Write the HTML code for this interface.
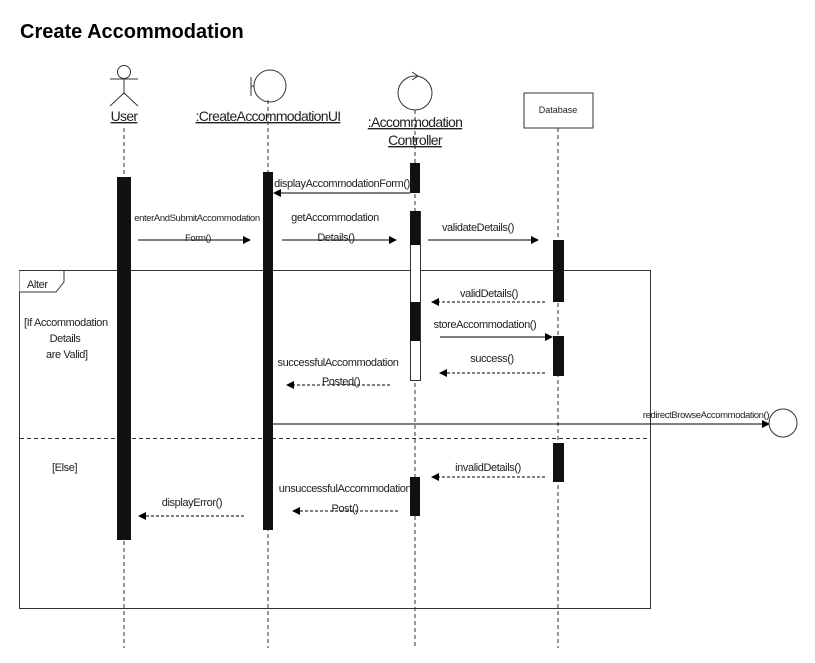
<!DOCTYPE html>
<html><head><meta charset="utf-8"><style>
body{margin:0;background:#fff;}
svg text{font-family:"Liberation Sans",Arial,sans-serif;fill:#222;}
.m{font-size:11px;letter-spacing:-0.4px;}
.h{font-size:14px;letter-spacing:-0.7px;}
</style></head><body>
<svg width="815" height="658" viewBox="0 0 815 658" xmlns="http://www.w3.org/2000/svg">
<defs>
<marker id="ah" markerWidth="8" markerHeight="8" refX="7" refY="4" orient="auto" markerUnits="userSpaceOnUse"><path d="M0,0 L8,4 L0,8 Z" fill="#000"/></marker>
</defs>
<text x="20" y="38" style="font-size:20px;font-weight:bold;fill:#000">Create Accommodation</text>

<g stroke="#333" stroke-dasharray="4,3" stroke-width="1">
<line x1="124" y1="128" x2="124" y2="648"/>
<line x1="268" y1="100" x2="268" y2="648"/>
<line x1="415" y1="110" x2="415" y2="648"/>
<line x1="558" y1="128" x2="558" y2="648"/>
</g>

<g stroke="#333" fill="none">
<circle cx="124" cy="72" r="6.5"/>
<line x1="124" y1="78" x2="124" y2="93"/>
<line x1="110" y1="79" x2="138" y2="79"/>
<line x1="124" y1="93" x2="110" y2="106"/>
<line x1="124" y1="93" x2="138" y2="106"/>
</g>
<text x="124" y="121" text-anchor="middle" class="h" text-decoration="underline">User</text>

<g stroke="#333" fill="none">
<circle cx="270" cy="86" r="16"/>
<line x1="251" y1="77" x2="251" y2="96"/>
<line x1="251" y1="86" x2="254" y2="86"/>
</g>
<text x="268" y="121" text-anchor="middle" class="h" text-decoration="underline">:CreateAccommodationUI</text>

<g stroke="#333" fill="none">
<circle cx="415" cy="93" r="17"/>
<path d="M412,72 L418,76 L412,80"/>
</g>
<text x="415" y="127" text-anchor="middle" class="h" text-decoration="underline">:Accommodation</text>
<text x="415" y="145" text-anchor="middle" class="h" text-decoration="underline">Controller</text>

<rect x="524" y="93" width="69" height="35" fill="#fff" stroke="#333"/>
<text x="558" y="113" text-anchor="middle" style="font-size:9px">Database</text>

<rect x="19.5" y="270.5" width="631" height="338" fill="none" stroke="#333"/>
<path d="M19.5,270.5 H64 V282 L56,292 H19.5" fill="#fff" stroke="#333"/>
<text x="27" y="288" class="m">Alter</text>
<line x1="20" y1="438.5" x2="650" y2="438.5" stroke="#333" stroke-dasharray="4,3"/>
<text x="24" y="326" class="m">[If Accommodation</text>
<text x="65" y="342" class="m" text-anchor="middle">Details</text>
<text x="46" y="358" class="m">are Valid]</text>
<text x="52" y="471" class="m">[Else]</text>

<g fill="#111">
<rect x="117" y="177" width="14" height="363"/>
<rect x="263" y="172" width="10" height="358"/>
<rect x="410" y="163" width="10" height="30"/>
<rect x="410.5" y="211.5" width="10" height="169" fill="#fff" stroke="#333"/>
<rect x="410" y="211" width="10" height="34"/>
<rect x="410" y="302" width="10" height="39"/>
<rect x="410" y="477" width="10" height="39"/>
<rect x="553" y="240" width="11" height="62"/>
<rect x="553" y="336" width="11" height="40"/>
<rect x="553" y="443" width="11" height="39"/>
</g>

<g stroke="#000" stroke-width="1" fill="none" marker-end="url(#ah)">
<line x1="410" y1="193" x2="274" y2="193"/>
<line x1="138" y1="240" x2="250" y2="240"/>
<line x1="282" y1="240" x2="396" y2="240"/>
<line x1="428" y1="240" x2="538" y2="240"/>
<line x1="545" y1="302" x2="432" y2="302" stroke-dasharray="3,2"/>
<line x1="440" y1="337" x2="552" y2="337"/>
<line x1="545" y1="373" x2="440" y2="373" stroke-dasharray="3,2"/>
<line x1="390" y1="385" x2="287" y2="385" stroke-dasharray="3,2"/>
<line x1="273" y1="424" x2="769" y2="424"/>
<line x1="545" y1="477" x2="432" y2="477" stroke-dasharray="3,2"/>
<line x1="398" y1="511" x2="293" y2="511" stroke-dasharray="3,2"/>
<line x1="244" y1="516" x2="139" y2="516" stroke-dasharray="3,2"/>
</g>
<circle cx="783" cy="423" r="14" fill="#fff" stroke="#333"/>

<g class="m">
<text x="342" y="187" text-anchor="middle" class="m">displayAccommodationForm()</text>
<text x="197" y="221" text-anchor="middle" class="m" style="font-size:9.5px">enterAndSubmitAccommodation</text>
<text x="198" y="241" text-anchor="middle" class="m" style="font-size:9.5px">Form()</text>
<text x="335" y="221" text-anchor="middle" class="m">getAccommodation</text>
<text x="336" y="241" text-anchor="middle" class="m">Details()</text>
<text x="478" y="231" text-anchor="middle" class="m">validateDetails()</text>
<text x="489" y="297" text-anchor="middle" class="m">validDetails()</text>
<text x="485" y="328" text-anchor="middle" class="m">storeAccommodation()</text>
<text x="492" y="362" text-anchor="middle" class="m">success()</text>
<text x="338" y="366" text-anchor="middle" class="m">successfulAccommodation</text>
<text x="341" y="385" text-anchor="middle" class="m">Posted()</text>
<text x="706" y="418" text-anchor="middle" class="m" style="font-size:9.5px">redirectBrowseAccommodation()</text>
<text x="488" y="471" text-anchor="middle" class="m">invalidDetails()</text>
<text x="345" y="492" text-anchor="middle" class="m">unsuccessfulAccommodation</text>
<text x="345" y="512" text-anchor="middle" class="m">Post()</text>
<text x="192" y="506" text-anchor="middle" class="m">displayError()</text>
</g>
</svg>
</body></html>
